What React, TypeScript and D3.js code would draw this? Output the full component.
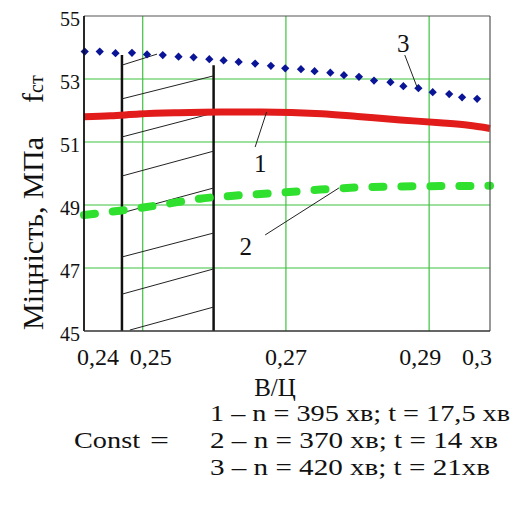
import React from "react";
import * as d3 from "d3";

// ---- data ----
const yTicks = [45, 47, 49, 51, 53, 55];
const yGrid = [47, 49, 51, 53];
const xGrid = [0.25, 0.27, 0.29];
const xTickLabels = ["0,24", "0,25", "0,27", "0,29", "0,3"];
const xTickValues = [0.24, 0.25, 0.27, 0.29, 0.3];

// curve 1 (red)
const c1X = [0.2418, 0.2455, 0.2495, 0.255, 0.261, 0.2665, 0.275, 0.28, 0.286, 0.2915, 0.2955, 0.2985];
const c1Y = [51.8, 51.83, 51.89, 51.93, 51.95, 51.95, 51.9, 51.81, 51.7, 51.61, 51.53, 51.43];

// curve 2 (green dashed)
const c2X = [0.2418, 0.2468, 0.2524, 0.258, 0.2636, 0.2692, 0.2748, 0.2804, 0.2859, 0.2915, 0.2985];
const c2Y = [48.68, 48.82, 49.0, 49.2, 49.31, 49.39, 49.49, 49.56, 49.59, 49.6, 49.61];

// curve 3 (blue diamonds)
const c3X = [0.2419, 0.244, 0.2462, 0.2485, 0.2506, 0.2528, 0.255, 0.2571, 0.2593, 0.2613, 0.2634, 0.2657, 0.2679, 0.2699, 0.2721, 0.274, 0.2762, 0.2781, 0.2802, 0.2823, 0.2846, 0.2864, 0.2885, 0.2905, 0.2928, 0.2946, 0.2967];
const c3Y = [53.87, 53.87, 53.82, 53.83, 53.78, 53.76, 53.71, 53.69, 53.63, 53.59, 53.54, 53.49, 53.42, 53.34, 53.31, 53.25, 53.2, 53.12, 53.07, 52.95, 52.9, 52.77, 52.71, 52.58, 52.52, 52.42, 52.37];

// hatched zone
const zoneX = [0.2471, 0.2599];
const zoneTop = [53.76, 53.44];
const hatchX1 = [0.2471, 0.2471, 0.2471, 0.2471, 0.2471, 0.2471, 0.2471, 0.2482];
const hatchY1 = [53.44, 52.37, 51.16, 49.92, 48.75, 47.35, 46.17, 45.03];
const hatchX2 = [0.252, 0.2599, 0.2599, 0.2599, 0.2599, 0.2599, 0.2599, 0.2599];
const hatchY2 = [53.79, 53.1, 51.92, 50.71, 49.54, 48.11, 46.97, 45.76];

// annotations
const annLabels = ["1", "2", "3"];
const annTextX = [0.2664, 0.2644, 0.2864];
const annTextY = [50.05, 47.41, 53.86];
const annLineX1 = [0.2673, 0.2671, 0.2866];
const annLineY1 = [51.95, 48.05, 53.76];
const annLineX2 = [0.2657, 0.2774, 0.2883];
const annLineY2 = [50.84, 49.54, 52.75];

const legendLines = [
  "1 – n = 395 хв; t = 17,5 хв",
  "2 – n = 370 хв; t = 14 хв",
  "3 – n = 420 хв; t = 21хв",
];

export default function App() {
  const L = 84, R = 490, T = 16, B = 331;
  const x = d3.scaleLinear().domain([0.2418, 0.2985]).range([L, R]);
  const y = d3.scaleLinear().domain([45, 55]).range([B, T]);
  const font = "'Liberation Serif', 'Times New Roman', serif";

  const line = d3
    .line<[number, number]>()
    .x((d) => x(d[0]))
    .y((d) => y(d[1]))
    .curve(d3.curveMonotoneX);

  const c1 = c1X.map((v, i) => [v, c1Y[i]] as [number, number]);
  const c2 = c2X.map((v, i) => [v, c2Y[i]] as [number, number]);
  const diamond = d3.symbol().type(d3.symbolSquare).size(34)();

  const xLabelPos = (i: number) => {
    if (i === 0) return { x: L - 7, anchor: "start" };
    if (i === xTickValues.length - 1) return { x: R + 2, anchor: "end" };
    const nudge = i === 1 ? 8 : i === 3 ? -9 : 0;
    return { x: x(xTickValues[i]) + nudge, anchor: "middle" };
  };

  const legendWidths = [300, 288, 280];
  const legendBase = [421, 448, 475];

  return (
    <svg
      width={524}
      height={508}
      style={{ position: "absolute", left: 0, top: 0, background: "#fff" }}
      fontFamily={font}
    >
      <rect x={0} y={0} width={524} height={508} fill="#fff" />
      {/* grid */}
      {yGrid.map((v) => (
        <line key={"gy" + v} x1={L} x2={R} y1={y(v)} y2={y(v)} stroke="#3ec23e" strokeWidth={1.2} />
      ))}
      {xGrid.map((v) => (
        <line key={"gx" + v} x1={x(v)} x2={x(v)} y1={T} y2={B} stroke="#3ec23e" strokeWidth={1.2} />
      ))}

      {/* hatched zone */}
      {zoneX.map((v, i) => (
        <line key={"zv" + i} x1={x(v)} x2={x(v)} y1={y(zoneTop[i])} y2={B} stroke="#111" strokeWidth={2.5} />
      ))}
      {hatchX1.map((v, i) => (
        <line
          key={"h" + i}
          x1={x(v)}
          y1={y(hatchY1[i])}
          x2={x(hatchX2[i])}
          y2={y(hatchY2[i])}
          stroke="#222"
          strokeWidth={1}
        />
      ))}

      {/* curves */}
      <path d={line(c2) || ""} fill="none" stroke="#2fe02f" strokeWidth={8} strokeDasharray="11 18" strokeLinecap="round" />
      <path d={line(c1) || ""} fill="none" stroke="#e21b1b" strokeWidth={7} />
      {c3X.map((v, i) => (
        <path key={"d" + i} d={diamond || ""} transform={`translate(${x(v)},${y(c3Y[i])}) rotate(45)`} fill="#0a1496" />
      ))}

      {/* frame */}
      <line x1={L} x2={R} y1={T} y2={T} stroke="#555" strokeWidth={1.2} />
      <line x1={R} x2={R} y1={T} y2={B} stroke="#555" strokeWidth={1.2} />
      <line x1={L} x2={L} y1={T} y2={B} stroke="#111" strokeWidth={1.8} />
      <line x1={L} x2={R} y1={B} y2={B} stroke="#333" strokeWidth={1.5} />

      {/* annotations */}
      {annLabels.map((t, i) => (
        <g key={"a" + i}>
          <line
            x1={x(annLineX1[i])}
            y1={y(annLineY1[i])}
            x2={x(annLineX2[i])}
            y2={y(annLineY2[i])}
            stroke="#222"
            strokeWidth={1}
          />
          <text x={x(annTextX[i])} y={y(annTextY[i])} fontSize={25} textAnchor="middle" fill="#111">
            {t}
          </text>
        </g>
      ))}

      {/* y ticks */}
      {yTicks.map((v) => (
        <text key={"yt" + v} x={80} y={y(v) + 10} fontSize={20} textAnchor="end" fill="#111">
          {v}
        </text>
      ))}
      {/* x ticks */}
      {xTickLabels.map((t, i) => {
        const p = xLabelPos(i);
        return (
          <text key={"xt" + i} x={p.x} y={365} fontSize={24} textAnchor={p.anchor} fill="#111">
            {t}
          </text>
        );
      })}

      {/* axis titles */}
      <text x={275} y={396} fontSize={25} textAnchor="middle" fill="#111">
        В/Ц
      </text>
      <text transform="translate(43,330) rotate(-90)" fontSize={30} fill="#111" textLength={193} lengthAdjust="spacingAndGlyphs">
        Міцність, МПа
      </text>
      <text transform="translate(43,103) rotate(-90)" fontSize={30} fill="#111">
        f<tspan fontSize={20}>ст</tspan>
      </text>

      {/* legend */}
      {legendLines.map((t, i) => (
        <text
          key={"lg" + i}
          x={210}
          y={legendBase[i]}
          fontSize={23}
          fill="#111"
          textLength={legendWidths[i]}
          lengthAdjust="spacingAndGlyphs"
        >
          {t}
        </text>
      ))}
      <text x={74} y={448} fontSize={23} fill="#111" textLength={66} lengthAdjust="spacingAndGlyphs">
        Const
      </text>
      <text x={150} y={448} fontSize={23} fill="#111" textLength={19} lengthAdjust="spacingAndGlyphs">
        =
      </text>
    </svg>
  );
}
